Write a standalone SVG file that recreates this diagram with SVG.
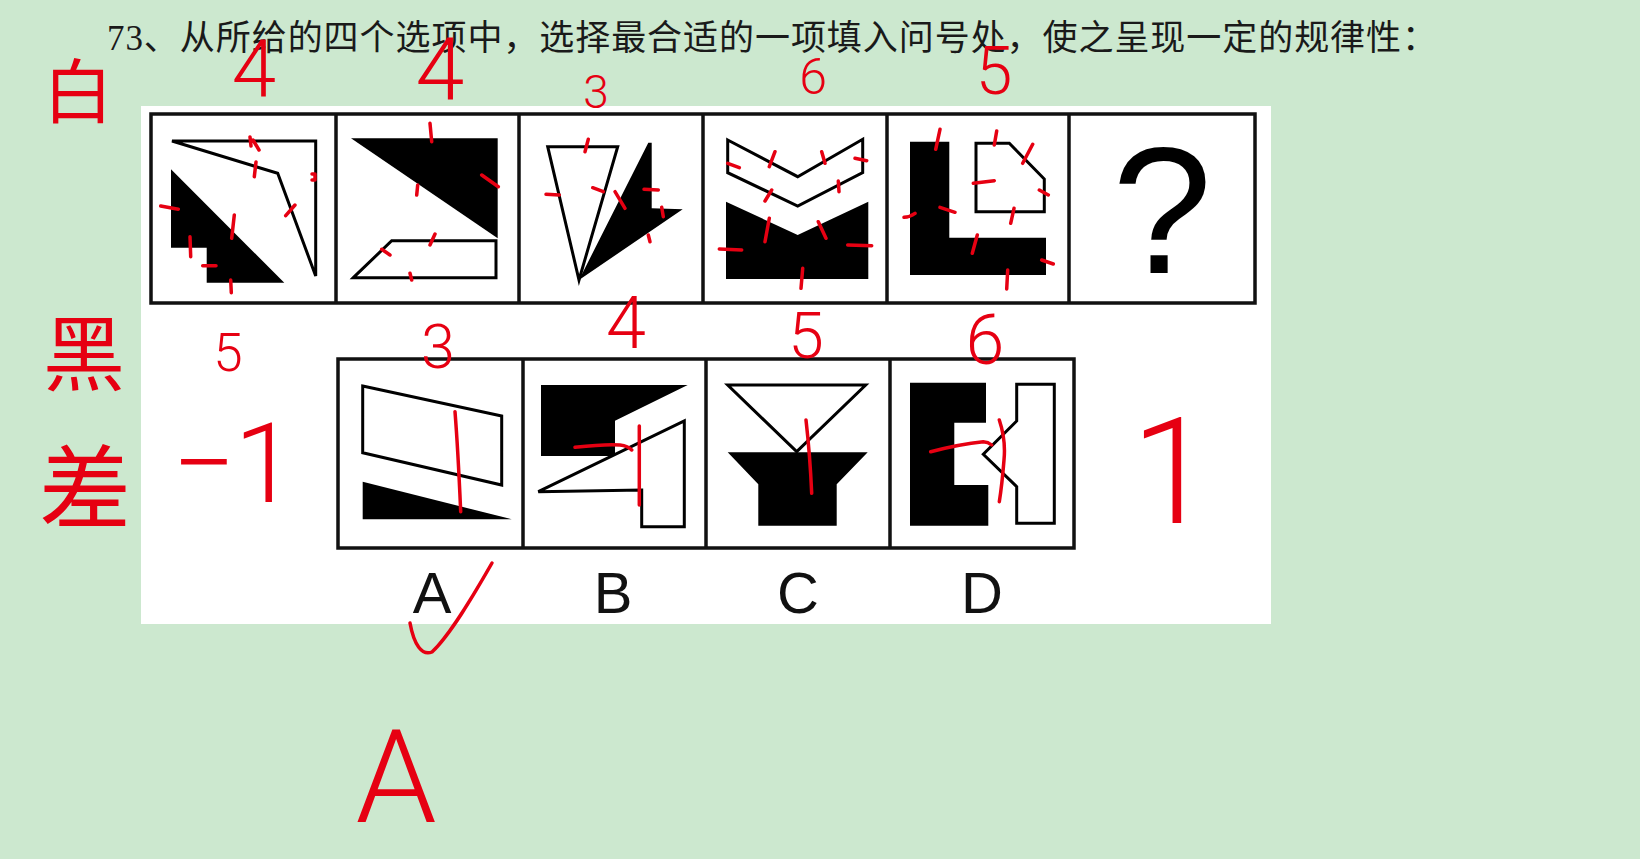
<svg xmlns="http://www.w3.org/2000/svg" width="1640" height="859" viewBox="0 0 1640 859">
<style>
.frame{fill:none;stroke:#111;stroke-width:3.5}
.div{stroke:#111;stroke-width:3.5}
.out{fill:#fff;stroke:#000;stroke-width:3;stroke-linejoin:miter}
.blk{fill:#000}
.tick{fill:none;stroke:#e60012;stroke-width:3.5;stroke-linecap:round;stroke-linejoin:round}
.hw{fill:#e60012;font-family:Roboto,"Liberation Sans",sans-serif;font-weight:300;text-anchor:middle}
.hz{fill:#e60012;font-family:"Noto Sans CJK SC",sans-serif;text-anchor:middle}
.lbl{fill:#111;font-family:"Liberation Sans",Arial,sans-serif;font-size:58px;text-anchor:middle}
</style>
<rect width="1640" height="859" fill="#cce8cf"/>
<text x="107" y="50" font-family="'Liberation Serif','Noto Sans CJK SC',serif" font-size="35" fill="#1a1a1a" textLength="1330" lengthAdjust="spacing">73、从所给的四个选项中，选择最合适的一项填入问号处，使之呈现一定的规律性：</text>
<rect x="141" y="106" width="1130" height="518" fill="#fff"/>

<g id="question-row">
<rect class="frame" x="151" y="114" width="1104" height="189"/>
<line class="div" x1="336" y1="114" x2="336" y2="303"/>
<line class="div" x1="519" y1="114" x2="519" y2="303"/>
<line class="div" x1="703" y1="114" x2="703" y2="303"/>
<line class="div" x1="887" y1="114" x2="887" y2="303"/>
<line class="div" x1="1069" y1="114" x2="1069" y2="303"/>
</g>
<g id="q1">
<polygon class="out" fill="none" points="172,141 315.7,141 315.7,276 277.7,173.3"/>
<polygon class="blk" points="171,169.3 284.3,282.7 206.7,282.7 206.7,247.7 171,247.7"/>
</g>
<g id="q2">
<polygon class="blk" points="351,138.3 497.7,138.3 497.7,238.3"/>
<polygon class="out" points="353.3,277.7 391.7,240.7 496,240.7 496,277.7"/>
</g>
<g id="q3">
<polygon class="out" points="547.7,146.7 617.7,146.7 579,280"/>
<polygon class="blk" points="579,280 648.3,142.7 651.7,142.7 651.7,208.3 682.7,209.3"/>
</g>
<g id="q4">
<polygon class="out" points="727.7,140 797.7,176.7 862.7,139.3 862.7,172.7 797.7,206 727.7,172.7"/>
<polygon class="blk" points="726,201.7 797.7,235 868.3,201.7 868.3,279 726,279"/>
</g>
<g id="q5">
<polygon class="blk" points="910,141.7 949.3,141.7 949.3,237.7 1046,237.7 1046,275 910,275"/>
<polygon class="out" points="976,143.3 1009.3,143.3 1044.3,179 1044.3,211.7 976,211.7"/>
</g>
<g id="q6">
<text x="1162" y="273" font-family="'Liberation Sans',Arial,sans-serif" font-size="180" text-anchor="middle" fill="#000">?</text>
</g>

<g id="options-row">
<rect class="frame" x="338" y="359" width="736" height="189"/>
<line class="div" x1="523" y1="359" x2="523" y2="548"/>
<line class="div" x1="706" y1="359" x2="706" y2="548"/>
<line class="div" x1="890" y1="359" x2="890" y2="548"/>
</g>
<g id="optA">
<polygon class="out" points="362.7,386 501.7,416 501.7,485 362.7,452.7"/>
<polygon class="blk" points="362.7,481.7 511.7,519.3 362.7,519.3"/>
<text class="lbl" x="432" y="613">A</text>
</g>
<g id="optB">
<polygon class="blk" points="541,385 687.7,385 615,420.7 615,456 541,456"/>
<polygon class="out" points="538.3,491.7 684.3,421 684.3,526.7 641.7,526.7 641.7,490"/>
<text class="lbl" x="613" y="613">B</text>
</g>
<g id="optC">
<polygon class="out" points="727.7,385 865.7,385 796.7,451.7"/>
<polygon class="blk" points="727.7,452.3 867.7,452.3 836.7,484.3 836.7,525.7 758.3,525.7 758.3,484.3"/>
<text class="lbl" x="798" y="613">C</text>
</g>
<g id="optD">
<polygon class="blk" points="910,382.7 986,382.7 986,422.7 954.3,422.7 954.3,485 988.3,485 988.3,525.7 910,525.7"/>
<polygon class="out" points="1016.7,384.3 1054.3,384.3 1054.3,523.3 1016.7,523.3 1016.7,486.7 983.3,454.3 1016.7,421"/>
<text class="lbl" x="982" y="613">D</text>
</g>

<g id="annotations">
<path class="tick" d="M250,137 L251,146 M253,140 L259,150 M256,162 L254.3,176.7 M312,174 L315,174 L315,180 L312,180 M285.7,215.7 L295,205 M234.3,215 L231.7,238.3 M160.7,206 L178.3,209.3 M190,236.7 L190.7,256.7 M202.7,265.7 L216,265.7 M230.7,280 L231.3,292.7"/>
<path class="tick" d="M430,123.3 L431.7,141.7 M481.7,175 L498.3,186.7 M417.7,185 L416.7,195 M435,234 L430,245 M381.7,249.3 L390,255 M410,273.3 L411.7,280"/>
<path class="tick" d="M588.3,139.3 L585,151.7 M546,194.3 L559.3,195 M592.7,187.7 L603.3,191.7 M615,191.7 L625,208.3 M644,189.3 L658.3,190 M661.7,207.3 L663.3,216.7 M648.3,235 L650,241.7"/>
<path class="tick" d="M775,151.7 L769.3,166.7 M821.7,151.7 L825,163.3 M727.7,163.3 L739.3,167.7 M855,158.3 L866.7,160.7 M771.7,190 L765,201 M838.3,181 L839,191.7 M769.3,218.3 L765,241.7 M818.3,221.7 L826,238.3 M719.3,249 L741.7,250 M847.7,245 L871.7,245.7 M802.7,268.3 L801,288.3"/>
<path class="tick" d="M940,129.3 L935.7,149.3 M996.7,131 L994.3,145 M1032.7,144.3 L1022.7,163.3 M973.3,183.3 L994.3,180.7 M1039.3,190 L1048.3,195 M1014,208.3 L1010.7,223.3 M940,207.3 L955,212.3 M904,217.3 Q910,217 915,213.3 M977.3,235 L972.3,253.3 M1041.7,260 L1053.3,264 M1007.7,270 L1006.7,289"/>
<path class="tick" d="M455,411.7 Q458,450 460.7,511.7 M575,447.3 Q605,444 620,445 Q628,446 631.7,450 M639.3,426 L639.3,505 M806,420 Q810,455 811.7,493.3 M930.7,451.7 Q960,444 983.3,441.7 Q988,442 991.7,445 M999.3,420 Q1006,440 1004,460 Q1002,485 999.3,501.7"/>
<path class="tick" d="M410,623 C414,645 422,656 432,652 C450,635 472,598 492,563"/>
<text class="hw" x="254" y="96" font-size="80">4</text>
<text class="hw" x="440" y="100" font-size="88">4</text>
<text class="hw" x="596" y="108" font-size="46">3</text>
<text class="hw" x="813" y="94" font-size="50">6</text>
<text class="hw" x="994" y="94" font-size="66">5</text>
<text class="hw" x="228" y="371" font-size="53">5</text>
<text class="hw" x="438" y="368" font-size="61">3</text>
<text class="hw" x="626" y="348" font-size="72">4</text>
<text class="hw" x="806" y="358" font-size="64">5</text>
<text class="hw" x="985" y="364" font-size="70">6</text>
<text class="hw" x="172" y="502" font-size="112" style="text-anchor:start">−<tspan dx="-2">1</tspan></text>
<text class="hw" x="1172" y="523" font-size="148">1</text>
<text class="hw" x="396" y="822" font-size="130">A</text>
<text class="hz" x="78" y="118" font-size="70">白</text>
<text class="hz" x="84" y="384" font-size="82">黑</text>
<text class="hz" x="85" y="522" font-size="92">差</text>
</g>
</svg>
